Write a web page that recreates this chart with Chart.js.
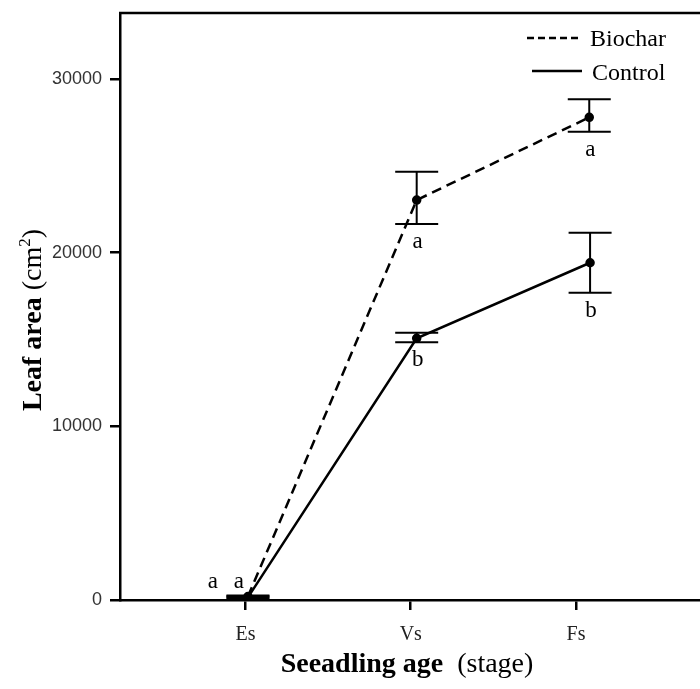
<!DOCTYPE html>
<html>
<head>
<meta charset="utf-8">
<script src="https://cdn.jsdelivr.net/npm/chart.js@4"></script>
<style>
  html, body { margin: 0; padding: 0; background: #fff; overflow: hidden; }
  #wrap { width: 700px; height: 689px; position: relative; }
</style>
</head>
<body>
<div id="wrap"><canvas id="leafChart"></canvas></div>
<script>
// ---- data ----
const stages = ['Es', 'Vs', 'Fs'];
const stagePos = [1, 2, 3];
const biocharX = [1.015, 2.036, 3.08];
const controlX = [1.015, 2.036, 3.085];
const biocharMean = [200, 23030, 27790];
const biocharLow = [140, 21650, 26960];
const biocharHigh = [260, 24660, 28840];
const controlMean = [150, 15070, 19420];
const controlLow = [90, 14840, 17690];
const controlHigh = [210, 15390, 21150];
const biocharLetters = ['a', 'a', 'a'];
const controlLetters = ['a', 'b', 'b'];
const yTicks = [0, 10000, 20000, 30000];

const SERIF = '"Liberation Serif", "DejaVu Serif", serif';
const SANS = '"Liberation Sans", Arial, sans-serif';

// draw a run of differently styled text pieces starting at x (baseline y)
function drawRich(ctx, parts, x, y) {
    parts.forEach(p => {
        ctx.font = p.font;
        ctx.fillText(p.text, x, y + (p.dy || 0));
        x += ctx.measureText(p.text).width;
    });
}
function richWidth(ctx, parts) {
    return parts.reduce((w, p) => { ctx.font = p.font; return w + ctx.measureText(p.text).width; }, 0);
}

// keep the plot box where the figure has it (no auto label padding)
function noPad(axis) {
    axis.paddingTop = 0;
    axis.paddingBottom = 0;
    axis.paddingLeft = 0;
    axis.paddingRight = 0;
}

const extrasPlugin = {
    id: 'extras',
    afterDatasetsDraw(chart) {
        const { ctx, chartArea, scales: { x, y } } = chart;
        ctx.save();
        ctx.strokeStyle = '#000';
        ctx.fillStyle = '#000';

        // top frame line
        ctx.lineWidth = 2.5;
        ctx.beginPath();
        ctx.moveTo(chartArea.left - 1, chartArea.top);
        ctx.lineTo(chartArea.right, chartArea.top);
        ctx.stroke();

        // error bars
        const groups = [
            { xs: biocharX, lo: biocharLow, hi: biocharHigh, letters: biocharLetters, esShift: -35 },
            { xs: controlX, lo: controlLow, hi: controlHigh, letters: controlLetters, esShift: -9 }
        ];
        groups.forEach(g => {
            g.xs.forEach((xv, i) => {
                const px = x.getPixelForValue(xv);
                const pLo = y.getPixelForValue(g.lo[i]);
                const pHi = y.getPixelForValue(g.hi[i]);
                ctx.lineWidth = 2;
                ctx.beginPath();
                ctx.moveTo(px, pLo); ctx.lineTo(px, pHi);
                ctx.moveTo(px - 21.5, pLo); ctx.lineTo(px + 21.5, pLo);
                ctx.moveTo(px - 21.5, pHi); ctx.lineTo(px + 21.5, pHi);
                ctx.stroke();

                // significance letters
                ctx.font = '23px ' + SERIF;
                ctx.textAlign = 'center';
                ctx.textBaseline = 'middle';
                if (i === 0) {
                    ctx.fillText(g.letters[i], px + g.esShift, y.getPixelForValue(0) - 18);
                } else {
                    ctx.fillText(g.letters[i], px + 1, pLo + 18);
                }
            });
        });

        // legend
        const lx = chartArea.right - 173;
        ctx.lineWidth = 2.5;
        ctx.setLineDash([7, 4]);
        ctx.beginPath(); ctx.moveTo(lx, 38); ctx.lineTo(lx + 55, 38); ctx.stroke();
        ctx.setLineDash([]);
        ctx.beginPath(); ctx.moveTo(lx + 5, 71); ctx.lineTo(lx + 55, 71); ctx.stroke();
        ctx.font = '24px ' + SERIF;
        ctx.textAlign = 'left';
        ctx.textBaseline = 'alphabetic';
        ctx.fillText('Biochar', lx + 63, 46);
        ctx.fillText('Control', lx + 65, 80);

        // axis titles (bold + regular mix)
        const xt = [
            { text: 'Seeadling age', font: 'bold 28px ' + SERIF },
            { text: '  (stage)', font: '28px ' + SERIF }
        ];
        drawRich(ctx, xt, 407 - richWidth(ctx, xt) / 2, 672);

        const yt = [
            { text: 'Leaf area', font: 'bold 28px ' + SERIF },
            { text: ' (cm', font: '28px ' + SERIF },
            { text: '2', font: '17px ' + SERIF, dy: -11 },
            { text: ')', font: '28px ' + SERIF }
        ];
        ctx.translate(41, 320);
        ctx.rotate(-Math.PI / 2);
        drawRich(ctx, yt, -richWidth(ctx, yt) / 2, 0);
        ctx.restore();
    }
};

new Chart(document.getElementById('leafChart'), {
    type: 'line',
    data: {
        datasets: [
            {
                label: 'Biochar',
                data: biocharX.map((xv, i) => ({ x: xv, y: biocharMean[i] })),
                borderColor: '#000',
                backgroundColor: '#000',
                borderWidth: 2.5,
                borderDash: [10, 6],
                pointRadius: 3.5,
                tension: 0
            },
            {
                label: 'Control',
                data: controlX.map((xv, i) => ({ x: xv, y: controlMean[i] })),
                borderColor: '#000',
                backgroundColor: '#000',
                borderWidth: 2.5,
                pointRadius: 3.5,
                tension: 0
            }
        ]
    },
    options: {
        responsive: true,
        maintainAspectRatio: false,
        animation: false,
        layout: { autoPadding: false, padding: { top: 13, right: 0, left: 0, bottom: 0 } },
        plugins: { legend: { display: false }, tooltip: { enabled: false } },
        scales: {
            x: {
                type: 'linear',
                min: 0.241,
                max: 3.75,
                afterBuildTicks: axis => { axis.ticks = stagePos.map(v => ({ value: v })); },
                afterFit: axis => { axis.height = 89; noPad(axis); },
                ticks: {
                    callback: v => stages[stagePos.indexOf(v)] || '',
                    font: { family: SERIF, size: 20 },
                    color: '#222',
                    padding: 13,
                    maxRotation: 0
                },
                grid: { drawOnChartArea: false, color: '#000', lineWidth: 2.5, tickLength: 10 },
                border: { color: '#000', width: 2.5 }
            },
            y: {
                min: 0,
                max: 33800,
                afterBuildTicks: axis => { axis.ticks = yTicks.map(v => ({ value: v })); },
                afterFit: axis => { axis.width = 120; noPad(axis); },
                ticks: {
                    callback: v => String(v),
                    font: { family: SANS, size: 18 },
                    color: '#333',
                    padding: 8
                },
                grid: { drawOnChartArea: false, color: '#000', lineWidth: 2.5, tickLength: 10 },
                border: { color: '#000', width: 2.5 }
            }
        }
    },
    plugins: [extrasPlugin]
});
</script>
</body>
</html>
